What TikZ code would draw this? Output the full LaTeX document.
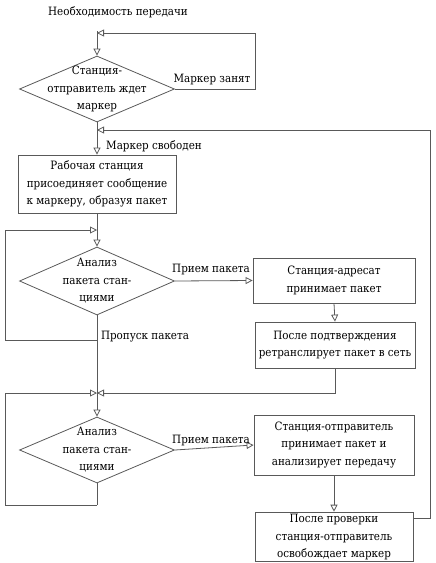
\documentclass[tikz,border=0pt]{standalone}
\usepackage{fontspec}
\setmainfont{DejaVu Serif Condensed}
\usetikzlibrary{arrows.meta,shapes.geometric,positioning}

\tikzset{
  line/.style={draw=black!65, line width=0.8pt},
  decision/.style={diamond, line, minimum width=155pt, minimum height=66pt, inner sep=0pt},
  stepbox/.style={rectangle, line, minimum width=160pt, align=center, inner sep=2pt},
  lbl/.style={inner sep=0pt, align=center}
}

\begin{document}
\begin{tikzpicture}[x=1pt,y=-1pt,>={Triangle[open,length=7pt,width=7pt]},
    every node/.style={font=\rmfamily\fontsize{11.5}{17.5}\selectfont}]
        \useasboundingbox (0,0) rectangle (436,563);
            % blocks
            \node[lbl] (need) at (118,12) {Необходимость передачи};
            \node[decision] (wait) at (97,89) {};
            \node[lbl] at (wait) {Станция-\\отправитель ждет\\маркер};
            \node[stepbox, minimum width=158pt, minimum height=58pt] (attach) at (97,184)
                {Рабочая станция\\присоединяет сообщение\\к маркеру, образуя пакет};
            \node[decision, minimum height=68pt] (scan1) at (97,281) {};
            \node[lbl] at (scan1) {Анализ\\пакета стан-\\циями};
            \node[stepbox, minimum width=162pt, minimum height=45pt] (dest) at (334,280.5)
                {Станция-адресат\\принимает пакет};
            \node[stepbox, minimum height=46pt] (relay) at (335,345)
                {После подтверждения\\ретранслирует пакет в сеть};
            \node[decision] (scan2) at (97,450) {};
            \node[lbl] at (scan2) {Анализ\\пакета стан-\\циями};
            \node[stepbox, minimum height=60pt] (back) at (334,445)
                {Станция-отправитель\\принимает пакет и\\анализирует передачу};
            \node[stepbox, minimum width=158pt, minimum height=48pt] (free) at (334,537)
                {После проверки\\станция-отправитель\\освобождает маркер};

            % junction points
            \coordinate (top) at (97,31);
            \coordinate (j1) at (97,33);
            \coordinate (j2) at (97,130);
            \coordinate (j3) at (97,230);
            \coordinate (s1) at (97,340);
            \coordinate (j4) at (97,393);
            \coordinate (s2) at (97,505);

            % main flow
            \draw[line,->] (top) -- (wait.north);
            \draw[line,->] (wait.south) -- (attach.north);
            \draw[line,->] (attach.south) -- (scan1.north);
            \draw[line,->] (scan1.south) -- (scan2.north);
            \draw[line] (scan2.south) -- (s2);
            \draw[line,->] (scan1.east) -- (dest.west);
            \draw[line,->] (dest.south) -- (relay.north);
            \draw[line,->] (scan2.east) -- (back.west);
            \draw[line,->] (back.south) -- (free.north);

            % loops
            \draw[line,->] (wait.east) -- ++(80,0) |- (j1);
            \draw[line,->] ([yshift=-7pt]free.north east) -- ++(17,0) |- (j2);
            \draw[line,->] (s1) -- ++(-92,0) |- (j3);
            \draw[line,->] (relay.south) |- (j4);
            \draw[line,->] (s2) -- ++(-92,0) |- (j4);

            % labels
            \node[lbl] at (212,80) {Маркер занят};
            \node[lbl] at (154,146) {Маркер свободен};
            \node[lbl] at (145,337) {Пропуск пакета};
            \node[lbl] at (211,269) {Прием пакета};
            \node[lbl] at (211,440) {Прием пакета};

        \end{tikzpicture}
\end{document}
